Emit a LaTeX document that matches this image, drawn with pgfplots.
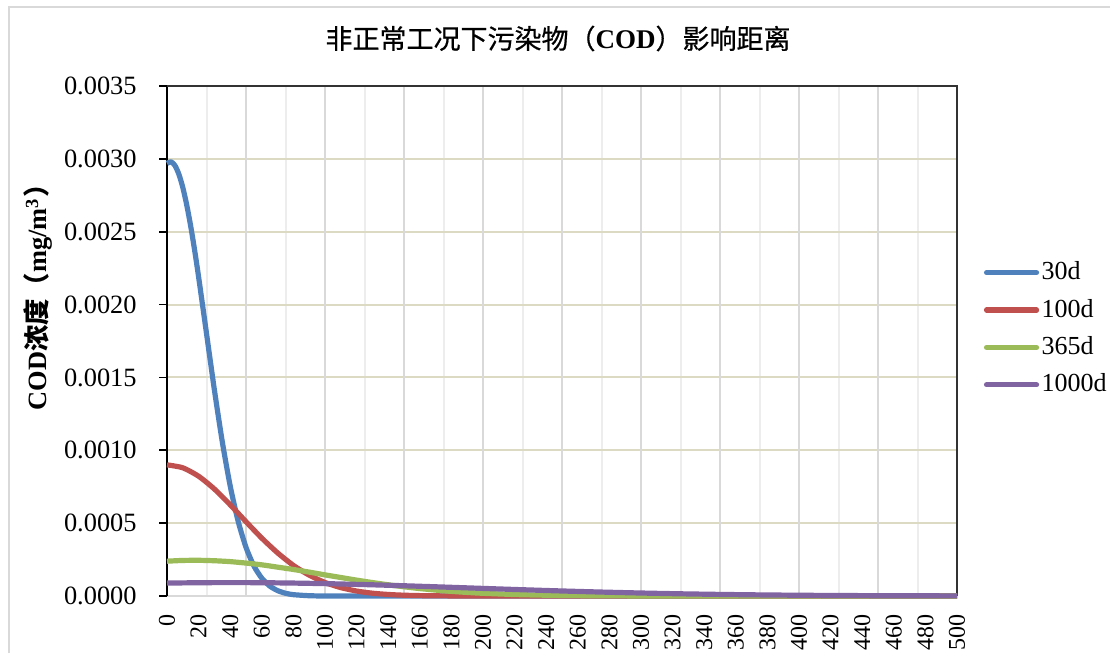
\documentclass[border=0pt]{standalone}
\usepackage{fontspec}
\setmainfont{Liberation Serif}
\newfontfamily\cjk{Noto Sans CJK SC}
\newfontfamily\cjktitle{Noto Sans CJK SC}[FakeBold=0.6]
\usepackage{pgfplots}
\usepackage{pgfplotstable}
\pgfplotsset{compat=1.18}

\definecolor{s1}{HTML}{4F81BD}
\definecolor{s2}{HTML}{C0504D}
\definecolor{s3}{HTML}{9BBB59}
\definecolor{s4}{HTML}{8064A2}
\definecolor{hgrid}{HTML}{DDDAC4}
\definecolor{vgridA}{HTML}{D9D9D9}
\definecolor{vgridB}{HTML}{EDEDED}
\definecolor{chartframe}{HTML}{D9D9D9}

% COD concentration along the flow path (x in m, C in mg/m^3)
\pgfplotstableread{
x C
0 0.002969
2.5 0.002980
5 0.002955
7.5 0.002895
10 0.002804
12.5 0.002683
15 0.002538
17.5 0.002372
20 0.002190
25 0.001802
30 0.001414
35 0.001058
40 0.000755
45 0.000514
50 0.000334
55 0.000206
60 0.000122
65 0.0000685
70 0.0000368
75 0.0000188
80 0.0000092
90 0.0000019
100 0.0000003
120 0
500 0
}\dThirty
\pgfplotstableread{
x C
0 0.000900
10 0.000880
20 0.000822
30 0.000734
40 0.000626
50 0.000510
60 0.000397
70 0.000296
80 0.000210
90 0.000143
100 0.0000927
110 0.0000575
120 0.0000341
130 0.0000193
140 0.0000105
150 0.0000054
160 0.0000027
170 0.0000013
180 0.0000006
200 0.0000001
500 0
}\dHundred
\pgfplotstableread{
x C
0 0.000239
10 0.000244
20 0.000245
30 0.000242
40 0.000236
50 0.000226
60 0.000214
70 0.000198
80 0.000182
90 0.000164
100 0.000145
110 0.000127
120 0.000109
130 0.0000923
140 0.0000769
150 0.0000631
160 0.0000510
170 0.0000406
180 0.0000318
190 0.0000245
200 0.0000186
220 0.0000102
240 0.0000053
260 0.0000026
280 0.0000012
300 0.0000005
350 0.0000001
400 0
500 0
}\dYear
\pgfplotstableread{
x C
0 0.0000888
25 0.0000915
50 0.0000918
75 0.0000895
100 0.0000849
125 0.0000784
150 0.0000703
175 0.0000614
200 0.0000521
225 0.0000430
250 0.0000345
275 0.0000270
300 0.0000205
325 0.0000151
350 0.0000109
375 0.0000076
400 0.0000052
425 0.0000034
450 0.0000022
475 0.0000014
500 0.0000008
}\dThousand

\begin{document}
\begin{tikzpicture}[x=0.5pt,y=0.5pt]
\path[use as bounding box] (0,0) rectangle (1117,653);
\draw[chartframe, line width=0.8pt] (9,0) -- (9,646) -- (1110,646);
\begin{axis}[
  at={(83.5pt,28.5pt)}, anchor=south west,
  scale only axis, width=395pt, height=255pt,
  xmin=0, xmax=500, ymin=0, ymax=0.0035,
  clip=false,
  separate axis lines,
  axis x line*=bottom, axis y line*=left,
  x axis line style={vgridA, line width=0.8pt},
  y axis line style={black, line width=0.8pt},
  xtick={0,20,...,500},
  minor xtick={25,75,...,475},
  ytick={0,0.0005,0.001,0.0015,0.002,0.0025,0.003,0.0035},
  scaled y ticks=false,
  /pgf/number format/assume math mode=true,
  yticklabel style={/pgf/number format/.cd, fixed, fixed zerofill, precision=4, /tikz/.cd,
    anchor=east, inner sep=0pt, xshift=-11pt, font=\fontsize{13.2}{15}\selectfont},
  xticklabel style={yshift=-5pt, rotate=90, anchor=east, inner sep=0pt, font=\fontsize{12}{14}\selectfont},
  tick align=outside,
  major tick length=4pt,
  minor tick length=0pt,
  xtick style={draw=none},
  ytick style={black, line width=0.8pt},
  ymajorgrids,
  every axis y grid/.style={hgrid, line width=1pt},
  xminorgrids,
  minor grid style={vgridB, line width=1pt},
  extra x ticks={50,100,...,450},
  extra x tick labels={},
  extra x tick style={grid=major, major grid style={vgridA, line width=1pt}, tick style={draw=none}},
  title={{\cjktitle 非正常工况下污染物（}\textbf{COD}{\cjktitle ）影响距离}},
  title style={font=\fontsize{13.5}{16}\selectfont, at={(axis description cs:0.495,1)}, anchor=center, yshift=17.75pt},
  ylabel={\bfseries COD{\cjk 浓度（}mg/m\textsuperscript{3}{\cjk ）}},
  ylabel style={font=\fontsize{13.2}{15}\selectfont, at={(axis description cs:-0.163,0.598)}, anchor=center},
  legend cell align=left,
  legend style={draw=none, fill=none, at={(axis description cs:1.026,0.524)}, anchor=west,
    font=\fontsize{13}{15}\selectfont, row sep=7.3pt,
    nodes={inner ysep=0pt, inner xsep=1.2pt, text height=9.2pt, text depth=2.2pt}},
  legend image code/.code={\draw[line cap=round] (1.25pt,0pt) -- (26.25pt,0pt);},
  every axis plot/.append style={line width=2.6pt, line join=round, no markers, smooth, tension=0.4},
]
\draw[black!80, line width=0.8pt] (rel axis cs:0,1) -- (rel axis cs:1,1) -- (rel axis cs:1,0);
\addplot[s1] table[x=x, y=C] {\dThirty};
\addlegendentry{30d}
\addplot[s2] table[x=x, y=C] {\dHundred};
\addlegendentry{100d}
\addplot[s3] table[x=x, y=C] {\dYear};
\addlegendentry{365d}
\addplot[s4] table[x=x, y=C] {\dThousand};
\addlegendentry{1000d}
\end{axis}
\end{tikzpicture}
\end{document}
